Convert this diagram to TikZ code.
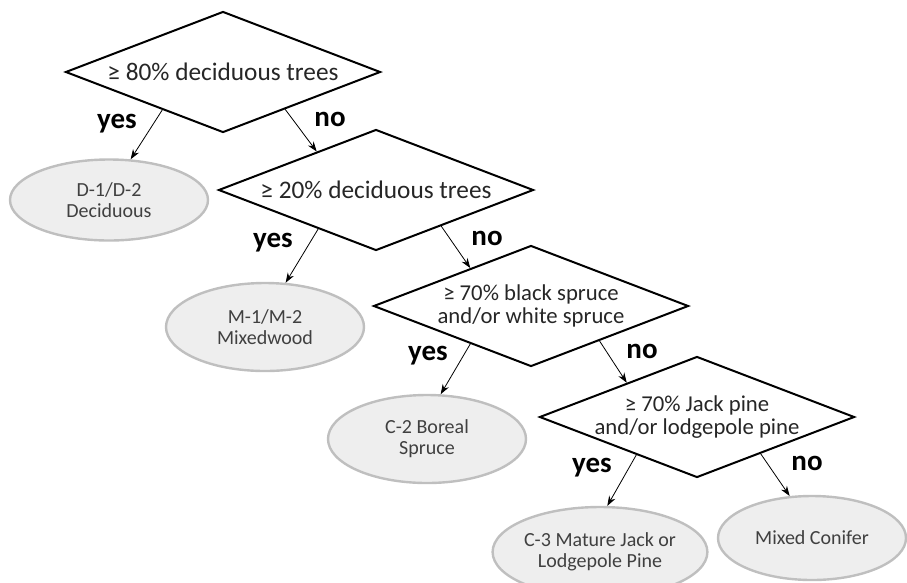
\documentclass[tikz,border=0pt]{standalone}
\usepackage{fontspec}
\setmainfont{Carlito}
\usetikzlibrary{shapes.geometric,arrows.meta}
\definecolor{leaffill}{HTML}{EEEEEE}
\definecolor{leafline}{HTML}{BFBFBF}
\definecolor{leaftext}{HTML}{404040}
\begin{document}
\begin{tikzpicture}[x=1pt,y=-1pt,
    question/.style ={diamond, aspect=2.6, draw, line width=2pt, inner sep=-6pt, minimum width=315pt, minimum height=121pt, align=center, text=black!85, font=\fontsize{22.7}{23.5}\selectfont},
    bigquestion/.style ={question, font=\fontsize{25.3}{26}\selectfont},
    leaf/.style ={ellipse, draw=leafline, fill=leaffill, line width=2.4pt, inner sep=0pt, align=center, text=leaftext, font=\fontsize{20}{21}\selectfont},
    answer/.style ={font=\bfseries\fontsize{29}{30}\selectfont},
    arrow/.style ={-{Stealth[length=10pt,width=7pt]}, line width=0.8pt}]
   \useasboundingbox (0,0) rectangle (907,582);

   \node[bigquestion] (Q1) at (223,72)  {≥ 80\% deciduous trees};
   \node[bigquestion] (Q2) at (376,190) {≥ 20\% deciduous trees};
   \node[question] (Q3) at (531,306) {≥ 70\% black spruce\\and/or white spruce};
   \node[question] (Q4) at (697,417) {≥ 70\% Jack pine\\and/or lodgepole pine};

   \node[leaf, minimum width=198pt, minimum height=81pt] (L1) at (109,200) {D-1/D-2\\Deciduous};
   \node[leaf, minimum width=198pt, minimum height=88pt] (L2) at (265,327) {M-1/M-2\\Mixedwood};
   \node[leaf, minimum width=198pt, minimum height=88pt] (L3) at (427,439) {C-2 Boreal\\Spruce};
   \node[leaf, minimum width=196pt, minimum height=90pt] (L4) at (600,552) {C-3 Mature Jack or\\Lodgepole Pine};
   \node[leaf, minimum width=188pt, minimum height=84pt] (L5) at (812,538) {Mixed Conifer};

   \node[answer] (Y1) at (117,124) {yes};
   \node[answer] (N1) at (330,119) {no};
   \node[answer] (Y2) at (273,243) {yes};
   \node[answer] (N2) at (487,238) {no};
   \node[answer] (Y3) at (428,356) {yes};
   \node[answer] (N3) at (642,351) {no};
   \node[answer] (Y4) at (592,468) {yes};
   \node[answer] (N4) at (807,463) {no};

   \draw[arrow] (Q1.212) to (L1.62);
   \draw[arrow] (Q1.329) to (Q2.147);
   \draw[arrow] (Q2.214) to (L2.65);
   \draw[arrow] (Q2.331) to (Q3.148);
   \draw[arrow] (Q3.212) to (L3.73);
   \draw[arrow] (Q3.333) to (Q4.154);
   \draw[arrow] (Q4.212) to (L4.81);
   \draw[arrow] (Q4.330) to (L5.118);
 \end{tikzpicture}
\end{document}
